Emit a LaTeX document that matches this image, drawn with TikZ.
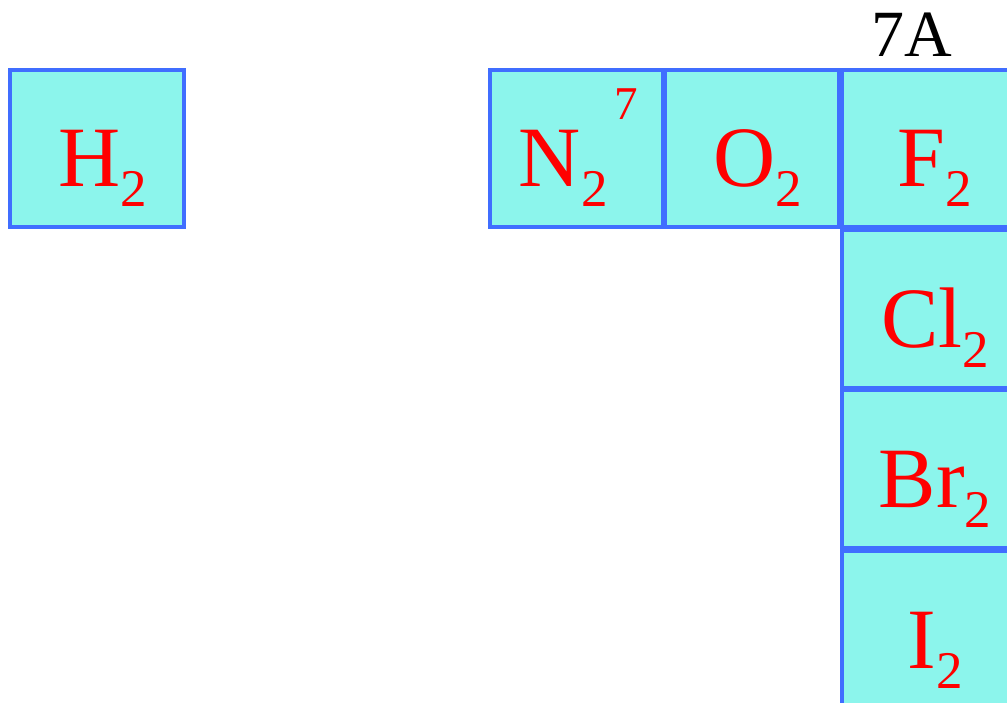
\documentclass[tikz,border=0pt]{standalone}
\usepackage{fontspec}
\setmainfont{Liberation Serif}
\definecolor{cellfill}{RGB}{140,245,236}
\definecolor{cellline}{RGB}{64,110,255}
\newcommand{\sbs}[1]{\raisebox{-20pt}{\fontsize{53}{53}\selectfont #1}}
\newcommand{\elem}[2]{\hspace*{12pt}#1\sbs{#2}}

\begin{document}
\begin{tikzpicture}[x=1pt,y=-1pt,
  cell/.style={rectangle,draw=cellline,fill=cellfill,line width=3.2pt,inner sep=0pt,
    minimum width=174pt,minimum height=157pt,text height=77pt,text depth=0pt,
    text=red,font=\fontsize{86}{90}\selectfont}]
\clip (0,0) rectangle (1007,703);
\foreach \nm/\x/\y/\lab in {h2/97/148.5/{\elem{H}{2}},o2/752/148.5/{\elem{O}{2}},
    f2/929/148.5/{\elem{F}{2}},cl2/929/309/{\elem{Cl}{2}},br2/929/469/{\elem{Br}{2}},
    i2/929/629.5/{\elem{I}{2}}}
  \node[cell] (\nm) at (\x,\y) {\lab};
\node[cell,minimum width=173pt] (n2) at (576.5,148.5)
  {\hspace*{4pt}N\sbs{2}\hspace{7pt}\raisebox{67pt}{\fontsize{47}{47}\selectfont 7}};
\node[anchor=base,inner sep=0pt,font=\fontsize{66}{70}\selectfont] (g7a) at (912,57) {7A};
\end{tikzpicture}
\end{document}
